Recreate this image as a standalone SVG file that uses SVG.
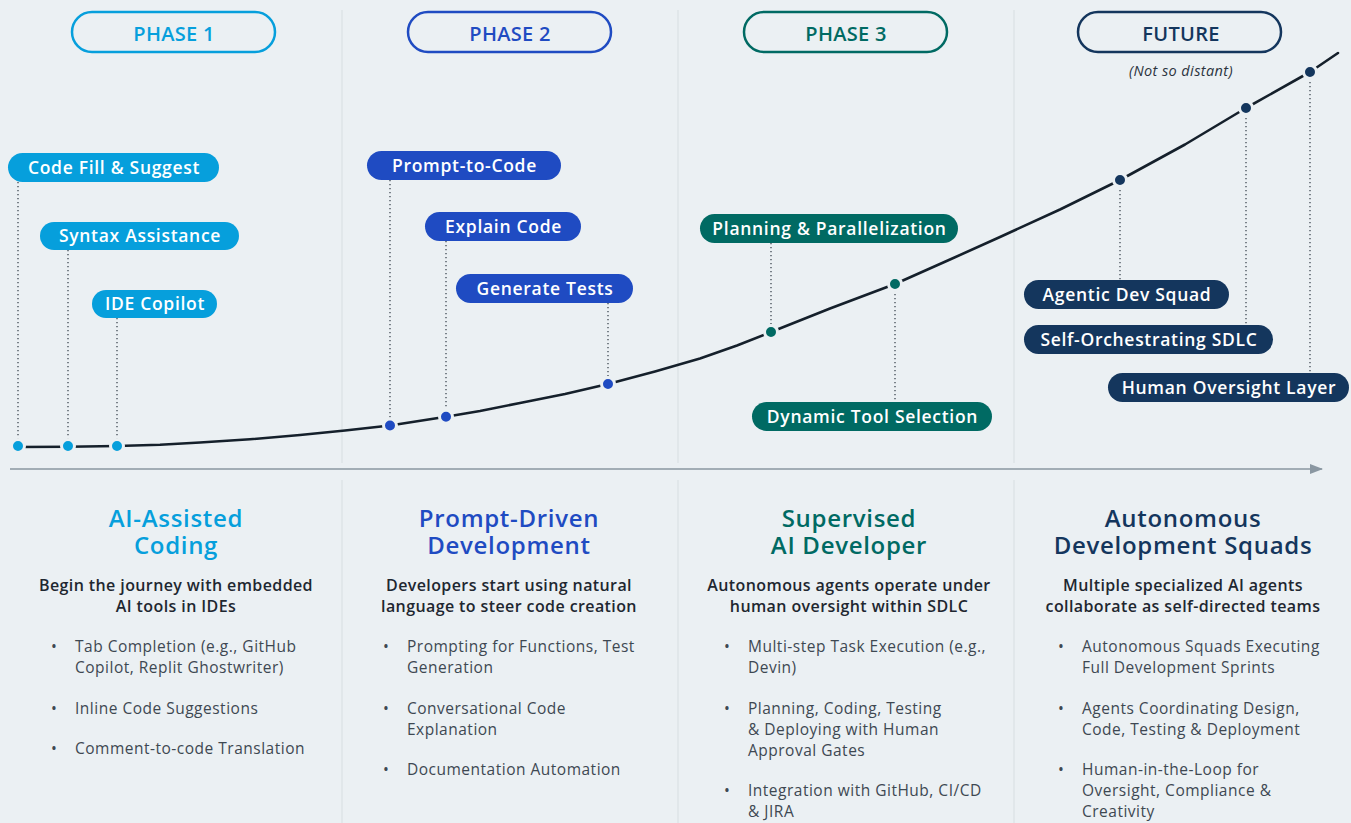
<svg xmlns="http://www.w3.org/2000/svg" width="1351" height="823" viewBox="0 0 1351 823">
<defs>
<style>
text{font-family:"Open Sans","Noto Sans","Liberation Sans",sans-serif}
.ph{font-size:20px;font-weight:600;text-anchor:middle;letter-spacing:0.3px}
.pill{fill:none;stroke-width:2.5}
.tag{font-size:17.5px;font-weight:600;fill:#fff;text-anchor:middle;letter-spacing:0.7px}
.dot{stroke:#ebf0f3;stroke-width:3}
.vl{stroke:#3d4750;stroke-width:1.3;stroke-dasharray:1.3 2.7;fill:none}
.div{stroke:#dbe1e5;stroke-width:1.2}
.tt{font-size:24px;font-weight:600;text-anchor:middle;letter-spacing:0.7px}
.st{font-size:16px;font-weight:600;fill:#1e2730;text-anchor:middle;letter-spacing:0.4px}
.bl{font-size:15.5px;fill:#3e4852;letter-spacing:0.5px}
.c1{fill:#069fdc}.c2{fill:#1f4bc2}.c3{fill:#006a63}.c4{fill:#14365d}
.s1{stroke:#069fdc}.s2{stroke:#1f4bc2}.s3{stroke:#006a63}.s4{stroke:#14365d}
</style>
<marker id="arr" markerWidth="14" markerHeight="12" refX="12" refY="5" orient="auto" markerUnits="userSpaceOnUse">
<path d="M0,0 L13,5 L0,10 Z" fill="#8a97a1"/>
</marker>
</defs>
<rect width="1351" height="823" fill="#ebf0f3"/>
<g id="dividers">
<line class="div" x1="342" y1="10" x2="342" y2="463"/>
<line class="div" x1="678" y1="10" x2="678" y2="463"/>
<line class="div" x1="1014" y1="10" x2="1014" y2="463"/>
<line class="div" x1="342" y1="480" x2="342" y2="823"/>
<line class="div" x1="678" y1="480" x2="678" y2="823"/>
<line class="div" x1="1014" y1="480" x2="1014" y2="823"/>
</g>
<g id="phase1"><rect class="pill s1" x="72" y="12" width="203" height="40" rx="20"/><text class="ph c1" x="174" y="41">PHASE 1</text></g>
<g id="phase2"><rect class="pill s2" x="408" y="12" width="203" height="40" rx="20"/><text class="ph c2" x="510" y="41">PHASE 2</text></g>
<g id="phase3"><rect class="pill s3" x="744" y="12" width="203" height="40" rx="20"/><text class="ph c3" x="846" y="41">PHASE 3</text></g>
<g id="future"><rect class="pill s4" x="1078" y="12" width="203" height="40" rx="20"/><text class="ph c4" x="1181" y="41">FUTURE</text>
<text x="1181" y="76" font-size="14.5" font-style="italic" font-weight="500" fill="#2b3440" text-anchor="middle" letter-spacing="0.4">(Not so distant)</text></g>
<g id="connectors">
<line x1="10" y1="469" x2="1322" y2="469" stroke="#8a97a1" stroke-width="1.5" marker-end="url(#arr)"/>
<polyline fill="none" stroke="#15202b" stroke-width="2.6" stroke-linejoin="round" stroke-linecap="round" points="18,447 68,446.8 117,446 160,444.8 200,442.5 250,439.3 300,435 345,430.5 390,425.5 446,416.8 480,411 520,403 565,394 608,384 655,371.5 700,358.5 737,345.5 771,332 830,308.5 895,284 950,259.5 1000,237 1060,209.5 1120,180 1185,144.5 1246,108 1310,72 1338,53"/>
<line class="vl" x1="18" y1="182" x2="18" y2="440"/>
<line class="vl" x1="68" y1="250" x2="68" y2="440"/>
<line class="vl" x1="117" y1="318" x2="117" y2="440"/>
<line class="vl" x1="390" y1="180" x2="390" y2="420"/>
<line class="vl" x1="446" y1="241" x2="446" y2="411"/>
<line class="vl" x1="608" y1="303" x2="608" y2="378"/>
<line class="vl" x1="771" y1="243" x2="771" y2="326"/>
<line class="vl" x1="895" y1="290" x2="895" y2="402"/>
<line class="vl" x1="1120" y1="186" x2="1120" y2="280"/>
<line class="vl" x1="1246" y1="114" x2="1246" y2="325"/>
<line class="vl" x1="1310" y1="78" x2="1310" y2="373"/>
<circle class="dot c1" cx="18" cy="446" r="6.5"/>
<circle class="dot c1" cx="68" cy="446" r="6.5"/>
<circle class="dot c1" cx="117" cy="446" r="6.5"/>
<circle class="dot c2" cx="390" cy="425.5" r="6.5"/>
<circle class="dot c2" cx="446" cy="416.8" r="6.5"/>
<circle class="dot c2" cx="608" cy="384" r="6.5"/>
<circle class="dot c3" cx="771" cy="332" r="6.5"/>
<circle class="dot c3" cx="895" cy="284" r="6.5"/>
<circle class="dot c4" cx="1120" cy="180" r="6.5"/>
<circle class="dot c4" cx="1246" cy="108" r="6.5"/>
<circle class="dot c4" cx="1310" cy="72" r="6.5"/>
</g>
<g id="tag-code-fill"><rect class="c1" x="8" y="153" width="211" height="29" rx="14.5"/><text class="tag" x="114" y="174">Code Fill &amp; Suggest</text></g>
<g id="tag-syntax"><rect class="c1" x="40" y="222" width="199" height="28" rx="14"/><text class="tag" x="140" y="242">Syntax Assistance</text></g>
<g id="tag-ide"><rect class="c1" x="92" y="290" width="125" height="28" rx="14"/><text class="tag" x="155" y="310">IDE Copilot</text></g>
<g id="tag-prompt"><rect class="c2" x="367" y="151" width="194" height="29" rx="14.5"/><text class="tag" x="464.5" y="172">Prompt-to-Code</text></g>
<g id="tag-explain"><rect class="c2" x="425" y="212" width="156" height="29" rx="14.5"/><text class="tag" x="503.5" y="233">Explain Code</text></g>
<g id="tag-generate"><rect class="c2" x="456" y="274" width="177" height="29" rx="14.5"/><text class="tag" x="545" y="295">Generate Tests</text></g>
<g id="tag-planning"><rect class="c3" x="700" y="214" width="258" height="29" rx="14.5"/><text class="tag" x="829.5" y="235">Planning &amp; Parallelization</text></g>
<g id="tag-dynamic"><rect class="c3" x="752" y="402" width="240" height="29" rx="14.5"/><text class="tag" x="872.5" y="423">Dynamic Tool Selection</text></g>
<g id="tag-agentic"><rect class="c4" x="1024" y="280" width="205" height="29" rx="14.5"/><text class="tag" x="1127" y="301">Agentic Dev Squad</text></g>
<g id="tag-selforch"><rect class="c4" x="1024" y="325" width="249" height="29" rx="14.5"/><text class="tag" x="1149" y="346">Self-Orchestrating SDLC</text></g>
<g id="tag-human"><rect class="c4" x="1108" y="373" width="241" height="29" rx="14.5"/><text class="tag" x="1229" y="394">Human Oversight Layer</text></g>
<g id="col1">
<text class="tt c1" x="176" y="527">AI-Assisted</text><text class="tt c1" x="176" y="554">Coding</text>
<text class="st" x="176" y="591">Begin the journey with embedded</text><text class="st" x="176" y="612">AI tools in IDEs</text>
<g class="bl"><text x="51" y="652">•</text><text x="75" y="652">Tab Completion (e.g., GitHub</text><text x="75" y="673">Copilot, Replit Ghostwriter)</text>
<text x="51" y="714">•</text><text x="75" y="714">Inline Code Suggestions</text>
<text x="51" y="754">•</text><text x="75" y="754">Comment-to-code Translation</text></g>
</g>
<g id="col2">
<text class="tt c2" x="509" y="527">Prompt-Driven</text><text class="tt c2" x="509" y="554">Development</text>
<text class="st" x="509" y="591">Developers start using natural</text><text class="st" x="509" y="612">language to steer code creation</text>
<g class="bl"><text x="383" y="652">•</text><text x="407" y="652">Prompting for Functions, Test</text><text x="407" y="673">Generation</text>
<text x="383" y="714">•</text><text x="407" y="714">Conversational Code</text><text x="407" y="735">Explanation</text>
<text x="383" y="775">•</text><text x="407" y="775">Documentation Automation</text></g>
</g>
<g id="col3">
<text class="tt c3" x="849" y="527">Supervised</text><text class="tt c3" x="849" y="554">AI Developer</text>
<text class="st" x="849" y="591">Autonomous agents operate under</text><text class="st" x="849" y="612">human oversight within SDLC</text>
<g class="bl"><text x="724" y="652">•</text><text x="748" y="652">Multi-step Task Execution (e.g.,</text><text x="748" y="673">Devin)</text>
<text x="724" y="714">•</text><text x="748" y="714">Planning, Coding, Testing</text><text x="748" y="735">&amp; Deploying with Human</text><text x="748" y="756">Approval Gates</text>
<text x="724" y="796">•</text><text x="748" y="796">Integration with GitHub, CI/CD</text><text x="748" y="817">&amp; JIRA</text></g>
</g>
<g id="col4">
<text class="tt c4" x="1183" y="527">Autonomous</text><text class="tt c4" x="1183" y="554">Development Squads</text>
<text class="st" x="1183" y="591">Multiple specialized AI agents</text><text class="st" x="1183" y="612">collaborate as self-directed teams</text>
<g class="bl"><text x="1058" y="652">•</text><text x="1082" y="652">Autonomous Squads Executing</text><text x="1082" y="673">Full Development Sprints</text>
<text x="1058" y="714">•</text><text x="1082" y="714">Agents Coordinating Design,</text><text x="1082" y="735">Code, Testing &amp; Deployment</text>
<text x="1058" y="775">•</text><text x="1082" y="775">Human-in-the-Loop for</text><text x="1082" y="796">Oversight, Compliance &amp;</text><text x="1082" y="817">Creativity</text></g>
</g>
</svg>
